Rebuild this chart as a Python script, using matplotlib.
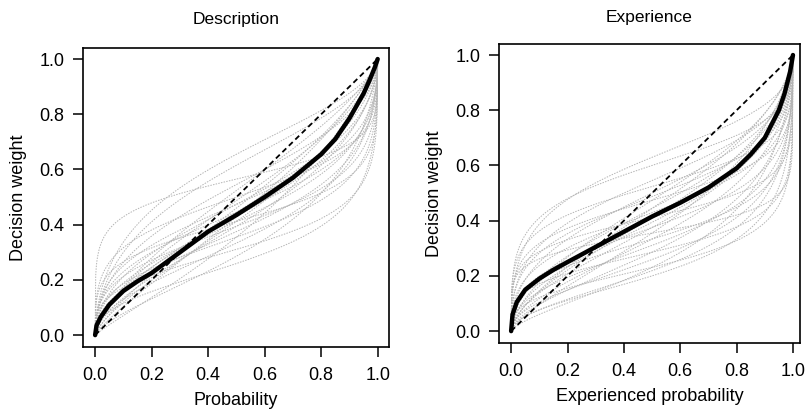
import numpy as np
import matplotlib
matplotlib.use("Agg")
import matplotlib.pyplot as plt

plt.rcParams['font.family'] = ['Liberation Sans Narrow', 'Liberation Sans', 'DejaVu Sans']

# ---- data ----
titles = ["Description", "Experience"]
xlabels = ["Probability", "Experienced probability"]
ylabel = "Decision weight"
ticks = [0.0, 0.2, 0.4, 0.6, 0.8, 1.0]
tick_labels = ["0.0", "0.2", "0.4", "0.6", "0.8", "1.0"]

# mean weighting function (thick black)
desc_p = [0.0, 0.005, 0.02, 0.05, 0.1, 0.15, 0.2, 0.3, 0.4, 0.5, 0.6, 0.7, 0.8, 0.85, 0.9, 0.95, 0.97, 0.99, 1.0]
desc_w = [0.0, 0.035, 0.066, 0.11, 0.16, 0.195, 0.225, 0.30, 0.375, 0.435, 0.50, 0.57, 0.655, 0.71, 0.785, 0.875, 0.92, 0.97, 1.0]
exp_p = [0.0, 0.005, 0.02, 0.05, 0.1, 0.15, 0.2, 0.3, 0.4, 0.5, 0.6, 0.7, 0.8, 0.85, 0.9, 0.95, 0.97, 0.99, 1.0]
exp_w = [0.0, 0.06, 0.105, 0.15, 0.19, 0.222, 0.25, 0.305, 0.36, 0.415, 0.465, 0.52, 0.59, 0.64, 0.70, 0.80, 0.86, 0.94, 1.0]

# individual weighting functions (light gray): linear-in-log-odds parameters
desc_gamma = [0.35, 0.45, 0.55, 0.65, 0.75, 0.5, 0.6, 0.7, 0.4, 0.8, 0.55, 0.65, 0.45, 0.35, 0.6, 0.7, 0.5, 0.85, 0.4, 0.25, 0.55, 0.75, 0.6, 0.45, 0.9, 0.3]
desc_delta = [1.0, 0.9, 1.2, 0.8, 0.7, 0.6, 0.75, 0.95, 0.55, 0.85, 0.5, 0.65, 0.8, 0.45, 1.6, 0.4, 0.7, 0.75, 0.65, 1.3, 0.9, 1.1, 1.9, 0.35, 0.55, 0.7]
exp_gamma = [0.3, 0.4, 0.5, 0.6, 0.7, 0.35, 0.45, 0.55, 0.65, 0.25, 0.5, 0.4, 0.6, 0.3, 0.75, 0.45, 0.35, 0.55, 0.2, 0.5, 0.4, 0.65, 0.3, 0.6, 0.45, 0.7, 0.35, 0.55]
exp_delta = [0.9, 0.75, 1.0, 0.6, 0.8, 0.5, 0.45, 0.65, 0.9, 0.7, 0.35, 0.6, 0.4, 1.1, 0.55, 1.2, 0.3, 0.8, 0.55, 0.25, 0.95, 0.7, 0.4, 0.5, 1.7, 0.3, 1.5, 0.28]

panels = [
    (desc_p, desc_w, desc_gamma, desc_delta, [0.1027, 0.1679, 0.3787, 0.717], 1.04, 17),
    (exp_p, exp_w, exp_gamma, exp_delta, [0.6176, 0.1775, 0.3725, 0.717], 1.025, 16),
]

fig = plt.figure(figsize=(8.08, 4.17), dpi=100)
pgrid = np.linspace(0.0, 1.0, 500)

for i, (mp, mw, gam, dlt, pos, xmax, tpad) in enumerate(panels):
    ax = fig.add_axes(pos)
    for g, d in zip(gam, dlt):
        num = d * pgrid ** g
        w = num / (num + (1 - pgrid) ** g)
        ax.plot(pgrid, w, color='#b4b4b4', lw=0.7, ls=(0, (1.5, 1.3)), zorder=1)
    ax.plot([0, 1], [0, 1], color='black', lw=1.3, ls=(0, (3, 2)), zorder=2)
    ax.plot(mp, mw, color='black', lw=3.2, solid_capstyle='round', solid_joinstyle='round', zorder=3)
    ax.set_xlim(-0.043, xmax)
    ax.set_ylim(-0.043, 1.04)
    ax.set_xticks(ticks)
    ax.set_xticklabels(tick_labels)
    ax.set_yticks(ticks)
    ax.set_yticklabels(tick_labels)
    ax.tick_params(direction='out', length=7.5, width=1.1, labelsize=13, pad=6, color='black')
    ax.tick_params(axis='x', pad=7)
    for s in ax.spines.values():
        s.set_linewidth(1.2)
    ax.set_title(titles[i], fontsize=12.5, pad=tpad)
    ax.set_xlabel(xlabels[i], fontsize=13, labelpad=6)
    ax.set_ylabel(ylabel, fontsize=13, labelpad=9)

fig.savefig("out.png", dpi=100)
